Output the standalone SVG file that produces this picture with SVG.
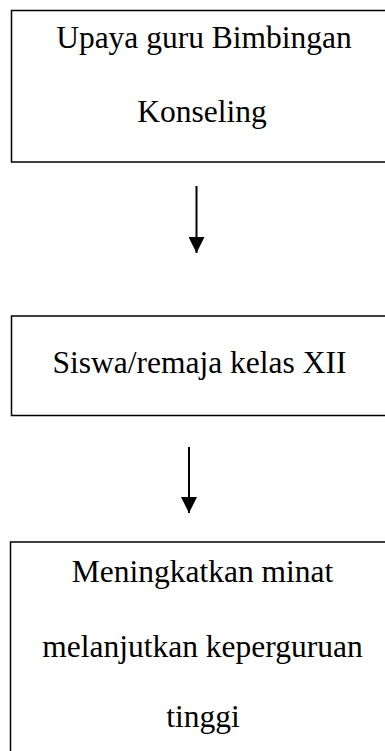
<svg xmlns="http://www.w3.org/2000/svg" width="385" height="751" viewBox="0 0 385 751">
<defs>
<style>
.box{fill:#fff;stroke:#000;stroke-width:1.5}
.t{font-family:"Liberation Serif","Times New Roman",serif;font-size:31.5px;fill:#000;text-anchor:middle}
.c{stroke:#000;stroke-width:2;fill:none}
</style>
<marker id="ah" markerUnits="userSpaceOnUse" markerWidth="17" markerHeight="16" refX="16" refY="8" orient="auto">
<path d="M0,0 L16,8 L0,16 Z" fill="#000"/>
</marker>
</defs>
<rect width="385" height="751" fill="#fff"/>
<g id="node1">
<rect class="box" x="11.5" y="10.5" width="400" height="151.5"/>
<text class="t" x="204" y="48">Upaya guru Bimbingan</text>
<text class="t" x="202" y="122">Konseling</text>
</g>
<g id="node2">
<rect class="box" x="11.5" y="316" width="400" height="99.5"/>
<text class="t" x="199.5" y="373">Siswa/remaja kelas XII</text>
</g>
<g id="node3">
<rect class="box" x="10.5" y="542" width="400" height="230"/>
<text class="t" x="202.5" y="582">Meningkatkan minat</text>
<text class="t" x="202.5" y="657">melanjutkan keperguruan</text>
<text class="t" x="203" y="727">tinggi</text>
</g>
<g id="connectors">
<line class="c" x1="196.5" y1="186" x2="196.5" y2="253" marker-end="url(#ah)"/>
<line class="c" x1="189" y1="447" x2="189" y2="513" marker-end="url(#ah)"/>
</g>
</svg>
